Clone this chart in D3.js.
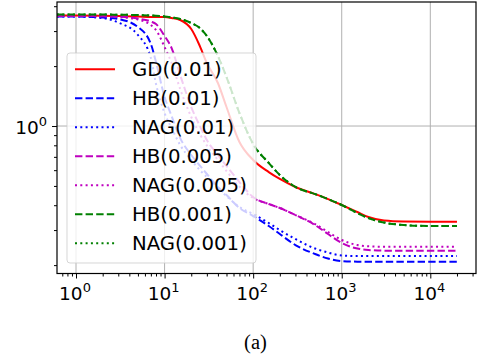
<!DOCTYPE html>
<html><head><meta charset="utf-8">
<script src="https://cdn.jsdelivr.net/npm/d3@7"></script>
<style>html,body{margin:0;padding:0;background:#fff;}svg{display:block;}</style>
</head><body>
<svg id="chart" width="477" height="360"></svg>
<script>
// ---- data ----
const iterations = [0,1,2,3,5,7,8,10,12,15,20,25,30,40,50,70,100,150,200,300,500,700,1000,1500,2000,3000,5000,10000,20000];
const gd001   = [3.592,3.592,3.587,3.571,3.550,3.529,3.529,3.529,3.489,3.410,3.071,2.523,2.073,1.645,1.246,0.831,0.675,0.587,0.542,0.494,0.455,0.4295,0.4009,0.3697,0.3488,0.3350,0.3312,0.3304,0.3304];
const hb001   = [3.550,3.550,3.509,3.449,3.145,2.583,2.097,1.398,1.123,0.870,0.715,0.633,0.574,0.494,0.450,0.3873,0.3529,0.3145,0.2867,0.2523,0.2274,0.2158,0.2097,0.2082,0.2080,0.2080,0.2080,0.2080,0.2080];
const nag001  = [3.550,3.550,3.489,3.312,2.867,2.196,1.626,1.162,0.977,0.803,0.675,0.601,0.554,0.488,0.4446,0.3917,0.3612,0.3256,0.3001,0.2705,0.2423,0.2313,0.2234,0.2221,0.2221,0.2221,0.2221,0.2221,0.2221];
const hb0005  = [3.571,3.571,3.563,3.542,3.469,3.351,3.255,2.834,2.466,1.804,1.246,1.000,0.850,0.715,0.630,0.523,0.4395,0.4055,0.3873,0.3570,0.3181,0.2867,0.2582,0.2423,0.2381,0.2365,0.2362,0.2362,0.2362];
const nag0005 = [3.571,3.571,3.559,3.529,3.430,3.217,3.037,2.495,2.073,1.534,1.110,0.912,0.798,0.675,0.594,0.4966,0.4345,0.4055,0.3873,0.3570,0.3218,0.2934,0.2674,0.2523,0.2486,0.2475,0.2475,0.2475,0.2475];
const hb0001  = [3.633,3.633,3.633,3.625,3.612,3.592,3.580,3.550,3.509,3.449,3.293,3.107,2.834,2.248,1.763,1.162,0.812,0.652,0.567,0.494,0.455,0.4295,0.4009,0.3654,0.3448,0.3274,0.3181,0.3145,0.3145];
const nag0001 = [3.633,3.633,3.633,3.625,3.612,3.592,3.580,3.550,3.509,3.449,3.293,3.107,2.834,2.248,1.763,1.162,0.812,0.652,0.567,0.494,0.455,0.4295,0.4009,0.3654,0.3448,0.3274,0.3181,0.3145,0.3145];
const seriesNames = ["GD(0.01)","HB(0.01)","NAG(0.01)","HB(0.005)","NAG(0.005)","HB(0.001)","NAG(0.001)"];
const seriesValues = [gd001, hb001, nag001, hb0005, nag0005, hb0001, nag0001];
const seriesColors = ["#ff0000","#0000ff","#0000ff","#bf00bf","#bf00bf","#008000","#008000"];
const seriesStyles = ["solid","dashed","dotted","dashed","dotted","dashed","dotted"];
const xTickValues = [1,10,100,1000,10000];
const xTickExponents = ["0","1","2","3","4"];
const yTickValues = [1];
const yTickExponents = ["0"];
const caption = "(a)";

// ---- layout ----
const L = 57, R = 476, T = 2, B = 273.5;
const xDomain = [0.61, 32800], yDomain = [0.1815, 4.20];
const svg = d3.select("#chart");
const x = d3.scaleLog().domain(xDomain).range([L, R]);
const y = d3.scaleLog().domain(yDomain).range([B, T]);
const lw = 2;
const dash = {solid: null, dashed: `${3.7*lw},${1.6*lw}`, dotted: `${1*lw},${1.65*lw}`};

svg.append("defs").append("clipPath").attr("id","clip")
  .append("rect").attr("x",L).attr("y",T).attr("width",R-L).attr("height",B-T);

// grid
const grid = svg.append("g").attr("stroke","#b0b0b0").attr("stroke-width",1);
xTickValues.forEach(v => grid.append("line").attr("x1",x(v)).attr("x2",x(v)).attr("y1",T).attr("y2",B));
yTickValues.forEach(v => grid.append("line").attr("x1",L).attr("x2",R).attr("y1",y(v)).attr("y2",y(v)));

// curves
const line = d3.line()
  .x(d => x(Math.max(d[0], xDomain[0])))
  .y(d => y(d[1]))
  .curve(d3.curveMonotoneX);
const plot = svg.append("g").attr("clip-path","url(#clip)");
seriesValues.forEach((vals, i) => {
  plot.append("path")
    .datum(iterations.map((it, k) => [it, vals[k]]))
    .attr("d", line)
    .attr("fill","none")
    .attr("stroke", seriesColors[i])
    .attr("stroke-width", lw)
    .attr("stroke-dasharray", dash[seriesStyles[i]]);
});

// axes
const xAxis = d3.axisBottom(x).tickValues(xTickValues).tickSize(5).tickFormat("");
const xMinor = [];
for (let e = -1; e <= 4; e++) for (let m = 2; m <= 9; m++) { const v = m*Math.pow(10,e); if (v>=xDomain[0] && v<=xDomain[1]) xMinor.push(v); }
const yMinor = [];
for (let e = -1; e <= 0; e++) for (let m = 2; m <= 9; m++) { const v = m*Math.pow(10,e); if (v>=yDomain[0] && v<=yDomain[1]) yMinor.push(v); }

const gx = svg.append("g").attr("transform",`translate(0,${B})`).call(xAxis);
const gxm = svg.append("g").attr("transform",`translate(0,${B})`).call(d3.axisBottom(x).tickValues(xMinor).tickSize(3).tickFormat(""));
const gy = svg.append("g").attr("transform",`translate(${L},0)`).call(d3.axisLeft(y).tickValues(yTickValues).tickSize(5).tickFormat(""));
const gym = svg.append("g").attr("transform",`translate(${L},0)`).call(d3.axisLeft(y).tickValues(yMinor).tickSize(3).tickFormat(""));
[gx,gxm,gy,gym].forEach(g => { g.select(".domain").remove(); g.selectAll(".tick line").attr("stroke","#000").attr("stroke-width",1); });

// tick labels
const fontSans = "'DejaVu Sans', sans-serif";
xTickValues.forEach((v,i) => {
  const t = svg.append("text").attr("x", x(v)-1).attr("y", 299.5).attr("text-anchor","middle")
    .attr("font-family",fontSans).attr("font-size",18.5).attr("fill","#000");
  t.append("tspan").text("10");
  t.append("tspan").attr("font-size",13).attr("dy",-8).text(xTickExponents[i]);
});
yTickValues.forEach((v,i) => {
  const t = svg.append("text").attr("x", 47).attr("y", y(v)+8).attr("text-anchor","end")
    .attr("font-family",fontSans).attr("font-size",18.5).attr("fill","#000");
  t.append("tspan").text("10");
  t.append("tspan").attr("font-size",13).attr("dy",-8).text(yTickExponents[i]);
});

// frame
svg.append("rect").attr("x",L).attr("y",T).attr("width",R-L).attr("height",B-T)
  .attr("fill","none").attr("stroke","#000").attr("stroke-width",1.2);

// legend
const lg = svg.append("g");
lg.append("rect").attr("x",67).attr("y",53).attr("width",189).attr("height",210).attr("rx",3)
  .attr("fill","#fff").attr("fill-opacity",0.8).attr("stroke","#cccccc").attr("stroke-opacity",0.8);
seriesNames.forEach((name,i) => {
  const cy = 69.3 + i*29;
  lg.append("line").attr("x1",75).attr("x2",115).attr("y1",cy).attr("y2",cy)
    .attr("stroke",seriesColors[i]).attr("stroke-width",lw).attr("stroke-dasharray",dash[seriesStyles[i]]);
  lg.append("text").attr("x",132).attr("y",cy+7).attr("font-family",fontSans).attr("font-size",19.7)
    .attr("fill","#000").text(name);
});

// caption
svg.append("text").attr("x",255.5).attr("y",348.5).attr("text-anchor","middle")
  .attr("font-family","'Liberation Serif','Times New Roman',serif").attr("font-size",20.5).attr("fill","#000").text(caption);
</script>
</body></html>
